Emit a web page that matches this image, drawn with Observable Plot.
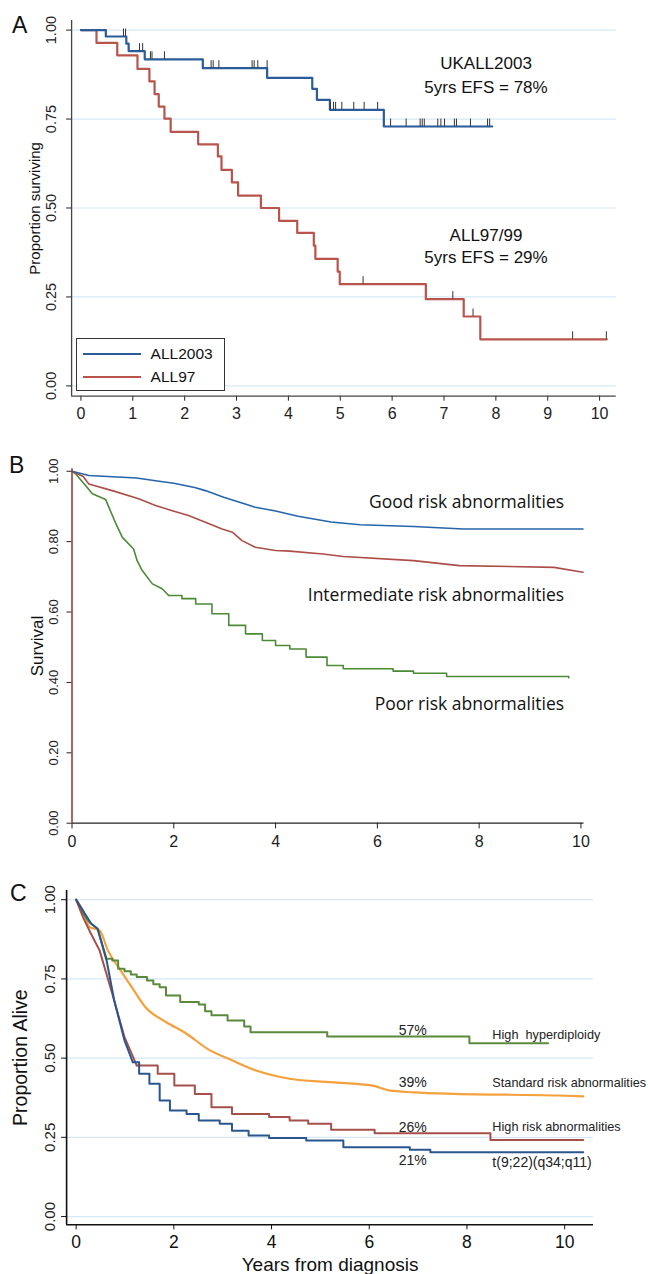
<!DOCTYPE html>
<html><head><meta charset="utf-8">
<script src="https://cdn.jsdelivr.net/npm/d3@7"></script>
<script src="https://cdn.jsdelivr.net/npm/@observablehq/plot@0.6"></script>
<style>
body{margin:0;background:#fff;}
#wrap{position:relative;width:648px;height:1274px;overflow:hidden;background:#fff;}
#wrap svg{position:absolute;left:0;overflow:visible;}
.plabel{position:absolute;font-family:"Liberation Sans",Arial,sans-serif;font-size:23px;color:#111;line-height:1;}
#legA{position:absolute;left:75.6px;top:338.3px;width:147px;height:51px;border:1px solid #333;background:#fff;font-family:"Liberation Sans",Arial,sans-serif;font-size:15.5px;color:#111;}
</style></head><body><div id="wrap"></div>
<script>
// ---------------- Panel A data ----------------
const aXTicks = [0,1,2,3,4,5,6,7,8,9,10];
const aYTicks = [0, 0.25, 0.5, 0.75, 1];
const aSeries = ["ALL2003", "ALL97"];
const aAll2003 = [[0,1],[0.48,0.982],[0.875,0.962],[0.92,0.941],[1.23,0.918],[2.35,0.893],[3.59,0.866],[4.46,0.835],[4.55,0.804],[4.80,0.776],[5.84,0.729],[7.93,0.729]];
const aAll97 = [[0,1],[0.30,0.964],[0.70,0.929],[1.09,0.891],[1.32,0.856],[1.42,0.820],[1.50,0.785],[1.61,0.751],[1.73,0.714],[2.26,0.679],[2.64,0.645],[2.71,0.607],[2.91,0.572],[3.03,0.535],[3.47,0.50],[3.82,0.464],[4.17,0.43],[4.49,0.394],[4.52,0.357],[4.95,0.321],[4.99,0.286],[6.65,0.244],[7.38,0.195],[7.70,0.131],[10.14,0.131]];
const aCensor2003 = [[0.82,0.982],[0.86,0.982],[1.13,0.941],[1.19,0.941],[1.34,0.918],[1.37,0.918],[1.61,0.918],[2.51,0.893],[2.55,0.893],[2.66,0.893],[3.30,0.893],[3.34,0.893],[3.41,0.893],[3.59,0.893],[4.81,0.776],[4.87,0.776],[4.91,0.776],[5.03,0.776],[5.26,0.776],[5.46,0.776],[5.72,0.776],[5.97,0.729],[6.27,0.729],[6.54,0.729],[6.58,0.729],[6.62,0.729],[6.88,0.729],[6.94,0.729],[7.01,0.729],[7.20,0.729],[7.24,0.729],[7.51,0.729],[7.84,0.729],[7.88,0.729]];
const aCensor97 = [[5.44,0.286],[7.17,0.244],[7.56,0.195],[9.48,0.131],[10.13,0.131]];
const aNotes = ["UKALL2003", "5yrs EFS = 78%", "ALL97/99", "5yrs EFS = 29%"];
const aYTitle = "Proportion surviving";

// ---------------- Panel B data ----------------
const bXTicks = [0,2,4,6,8,10];
const bYTicks = [0, 0.2, 0.4, 0.6, 0.8, 1];
const bSeries = ["Good risk abnormalities", "Intermediate risk abnormalities", "Poor risk abnormalities"];
const bGood = [[0,1],[0.33,0.988],[1.27,0.981],[1.64,0.973],[2.0,0.966],[2.41,0.954],[2.62,0.945],[2.98,0.926],[3.34,0.910],[3.6,0.898],[4.0,0.887],[4.44,0.872],[5.09,0.856],[5.66,0.848],[6.71,0.843],[7.69,0.836],[10.04,0.836]];
const bInter = [[0,1],[0.22,0.985],[0.33,0.964],[0.79,0.945],[1.31,0.922],[1.64,0.903],[1.97,0.888],[2.29,0.874],[2.62,0.855],[2.95,0.836],[3.15,0.827],[3.34,0.803],[3.60,0.784],[4.0,0.775],[4.28,0.773],[4.93,0.765],[5.33,0.758],[6.71,0.746],[7.61,0.732],[9.47,0.727],[10.04,0.713]];
const bPoor = [[0,1],[0.07,0.993],[0.27,0.959],[0.40,0.936],[0.56,0.926],[0.66,0.920],[0.85,0.855],[0.99,0.812],[1.21,0.779],[1.28,0.746],[1.38,0.718],[1.58,0.680],[1.77,0.666],[1.90,0.647],[2.16,0.638],[2.43,0.623],[2.75,0.595],[3.08,0.562],[3.41,0.538],[3.74,0.519],[4.0,0.505],[4.28,0.495],[4.60,0.472],[5.01,0.448],[5.33,0.439],[6.31,0.432],[6.71,0.426],[7.36,0.417],[9.76,0.413]];
const bYTitle = "Survival";

// ---------------- Panel C data ----------------
const cXTicks = [0,2,4,6,8,10];
const cYTicks = [0, 0.25, 0.5, 0.75, 1];
const cSeries = ["High  hyperdiploidy", "Standard risk abnormalities", "High risk abnormalities", "t(9;22)(q34;q11)"];
const cPercents = ["57%", "39%", "26%", "21%"];
const cHyper = [[0,1],[0.14,0.955],[0.27,0.929],[0.44,0.908],[0.61,0.814],[0.74,0.808],[0.86,0.782],[0.99,0.774],[1.12,0.764],[1.24,0.756],[1.45,0.745],[1.58,0.733],[1.71,0.724],[1.84,0.698],[2.13,0.677],[2.51,0.669],[2.64,0.648],[2.77,0.635],[3.10,0.619],[3.44,0.600],[3.57,0.582],[5.14,0.568],[8.05,0.547],[9.66,0.547]];
const cStandard = [[0,1],[0.14,0.965],[0.27,0.914],[0.48,0.903],[0.65,0.840],[0.91,0.777],[1.16,0.719],[1.41,0.662],[1.84,0.614],[2.26,0.577],[2.68,0.530],[3.19,0.493],[3.70,0.460],[4.37,0.435],[5.22,0.424],[6.07,0.413],[6.40,0.398],[6.91,0.392],[7.76,0.387],[9.87,0.382],[10.38,0.379]];
const cHighRisk = [[0,1],[0.14,0.945],[0.27,0.903],[0.48,0.840],[0.74,0.703],[0.99,0.566],[1.24,0.477],[1.67,0.451],[2.01,0.414],[2.43,0.387],[2.77,0.345],[3.19,0.324],[3.95,0.314],[4.37,0.303],[4.75,0.293],[5.22,0.274],[6.11,0.263],[8.48,0.242],[10.38,0.242]];
const cPh = [[0,1],[0.31,0.924],[0.44,0.908],[0.61,0.819],[0.78,0.682],[0.99,0.556],[1.16,0.487],[1.29,0.451],[1.50,0.419],[1.71,0.366],[1.92,0.335],[2.26,0.324],[2.51,0.303],[2.94,0.293],[3.19,0.271],[3.53,0.256],[3.95,0.248],[4.71,0.240],[5.47,0.219],[6.83,0.211],[7.25,0.203],[10.38,0.203]];
const cYTitle = "Proportion Alive";
const cXTitle = "Years from diagnosis";

// ---------------- rendering ----------------
const wrap = document.getElementById("wrap");
const ARIAL = "'Liberation Sans', Arial, sans-serif";
const OPEN = "'Open Sans', Lato, sans-serif";
const f2 = d3.format(".2f");
const X = d => d[0], Y = d => d[1];
// early part of a curve (steep, many tiny steps) drawn as a line, later part as a step function
const early = (arr, t) => arr.filter(d => d[0] <= t);
const late = (arr, t) => arr.filter(d => d[0] >= t);
function place(svg, top) { svg.style.top = top + "px"; wrap.appendChild(svg); }

// Panel A
const aXD = [-0.18, 10.32], aYD = [-0.029, 1.027];
const colA = {ALL2003: "#2b5b98", ALL97: "#b9544c"};
const plotA = Plot.plot({
  width: 648, height: 430,
  marginLeft: 71.1, marginRight: 32.3, marginTop: 20, marginBottom: 34.3,
  x: {domain: aXD, ticks: aXTicks, tickSize: 5, tickPadding: 6.5, tickFormat: d => String(d), label: null},
  y: {domain: aYD, ticks: aYTicks, tickSize: 5, tickFormat: () => "", label: null},
  style: {fontFamily: ARIAL, fontSize: "16px", color: "#222", background: "transparent"},
  marks: [
    Plot.ruleY(aYTicks, {stroke: "#d6e8f5", strokeWidth: 1.2}),
    Plot.ruleX([aXD[0]], {stroke: "#444", strokeWidth: 1.3}),
    Plot.ruleY([aYD[0]], {stroke: "#444", strokeWidth: 1.3}),
    Plot.text(aYTicks, {x: aXD[0], y: d => d, text: d => f2(d), rotate: -90, dx: -20.5, fontSize: 14.5, fill: "#222"}),
    Plot.text([aYTitle], {frameAnchor: "left", textAnchor: "middle", lineAnchor: "middle", rotate: -90, dx: -36, fontSize: 15, fill: "#111", text: d => d}),
    Plot.line(aAll97, {x: X, y: Y, curve: "step-after", stroke: colA.ALL97, strokeWidth: 2.2}),
    Plot.line(aAll2003, {x: X, y: Y, curve: "step-after", stroke: colA.ALL2003, strokeWidth: 2.2}),
    Plot.ruleX(aCensor2003, {x: X, y1: Y, y2: d => d[1] + 0.021, stroke: "#333", strokeWidth: 1}),
    Plot.ruleX(aCensor97, {x: X, y1: Y, y2: d => d[1] + 0.021, stroke: "#333", strokeWidth: 1}),
    Plot.text([aNotes[0]], {x: 7.81, y: 0.906, text: d => d, fontSize: 17, fill: "#111"}),
    Plot.text([aNotes[1]], {x: 7.81, y: 0.839, text: d => d, fontSize: 17, fill: "#111"}),
    Plot.text([aNotes[2]], {x: 7.81, y: 0.423, text: d => d, fontSize: 17, fill: "#111"}),
    Plot.text([aNotes[3]], {x: 7.81, y: 0.362, text: d => d, fontSize: 17, fill: "#111"})
  ]
});
place(plotA, 0);

// legend A
const leg = document.createElement("div");
leg.id = "legA";
leg.innerHTML = aSeries.map((s, i) =>
  `<div style="position:absolute;left:6px;top:${15 + i * 22.4 - 1}px;width:58px;height:2px;background:${colA[s]}"></div>` +
  `<div style="position:absolute;left:74px;top:${15 + i * 22.4 - 9}px;line-height:17px;">${s}</div>`).join("");
wrap.appendChild(leg);

// Panel B
const bXD = [0, 10.06], bYD = [0, 1.007];
const colB = ["#2465ab", "#ad4d47", "#4b8b36"];
const plotB = Plot.plot({
  width: 648, height: 430,
  marginLeft: 71.5, marginRight: 64.5, marginTop: 38.3, marginBottom: 37.3,
  x: {domain: bXD, ticks: bXTicks, tickSize: 5.7, tickPadding: 6.5, tickFormat: d => String(d), label: null},
  y: {domain: bYD, ticks: bYTicks, tickSize: 5, tickFormat: () => "", label: null},
  style: {fontFamily: ARIAL, fontSize: "16px", color: "#222", background: "transparent"},
  marks: [
    Plot.ruleY([bYD[0]], {stroke: "#222", strokeWidth: 1.3}),
    Plot.text(bYTicks, {x: bXD[0], y: d => d, text: d => f2(d), rotate: -90, dx: -17.8, fontSize: 13, fill: "#222"}),
    Plot.text([bYTitle], {frameAnchor: "left", textAnchor: "middle", lineAnchor: "middle", rotate: -90, dx: -34.3, fontSize: 17, fill: "#111", text: d => d}),
    Plot.line(early(bPoor, 1.9), {x: X, y: Y, curve: "linear", stroke: colB[2], strokeWidth: 1.6}),
    Plot.line(late(bPoor, 1.9), {x: X, y: Y, curve: "step-after", stroke: colB[2], strokeWidth: 1.6}),
    Plot.line(bInter, {x: X, y: Y, curve: "linear", stroke: colB[1], strokeWidth: 1.6}),
    Plot.line(bGood, {x: X, y: Y, curve: "linear", stroke: colB[0], strokeWidth: 1.6}),
    Plot.ruleX([bXD[0]], {stroke: "#9a3f38", strokeWidth: 1.6}),
    Plot.text([bSeries[0]], {x: 9.67, y: 0.912, text: d => d, textAnchor: "end", fontFamily: OPEN, fontSize: 17.5, fill: "#111"}),
    Plot.text([bSeries[1]], {x: 9.67, y: 0.647, text: d => d, textAnchor: "end", fontFamily: OPEN, fontSize: 17.5, fill: "#111"}),
    Plot.text([bSeries[2]], {x: 9.67, y: 0.339, text: d => d, textAnchor: "end", fontFamily: OPEN, fontSize: 17.5, fill: "#111"})
  ]
});
place(plotB, 430);

// Panel C
const cXD = [-0.195, 10.59], cYD = [-0.026, 1.029];
const colC = ["#5a8a3b", "#f5a03c", "#a6504b", "#2a5690"];
const plotC = Plot.plot({
  width: 648, height: 414,
  marginLeft: 66.1, marginRight: 55, marginTop: 30, marginBottom: 49.7,
  x: {domain: cXD, ticks: cXTicks, tickSize: 5, tickPadding: 5.5, tickFormat: d => String(d), label: null},
  y: {domain: cYD, ticks: cYTicks, tickSize: 5, tickFormat: () => "", label: null},
  style: {fontFamily: ARIAL, fontSize: "17.5px", color: "#111", background: "transparent"},
  marks: [
    Plot.ruleY(cYTicks, {stroke: "#d6e8f5", strokeWidth: 1.2}),
    Plot.ruleX([cXD[0]], {stroke: "#111", strokeWidth: 1.6}),
    Plot.ruleY([cYD[0]], {stroke: "#111", strokeWidth: 1.6}),
    Plot.text(cYTicks, {x: cXD[0], y: d => d, text: d => f2(d), rotate: -90, dx: -16, fontSize: 15, fill: "#222"}),
    Plot.text([cYTitle], {frameAnchor: "left", textAnchor: "middle", lineAnchor: "middle", rotate: -90, dx: -45.4, fontSize: 19.5, fill: "#111", text: d => d}),
    Plot.text([cXTitle], {frameAnchor: "bottom", textAnchor: "middle", lineAnchor: "middle", dy: 40.5, fontSize: 19, fill: "#111", text: d => d}),
    Plot.line(cStandard, {x: X, y: Y, curve: "monotone-x", stroke: colC[1], strokeWidth: 2.2}),
    Plot.line(early(cHyper, 0.61), {x: X, y: Y, curve: "linear", stroke: colC[0], strokeWidth: 2}),
    Plot.line(late(cHyper, 0.61), {x: X, y: Y, curve: "step-after", stroke: colC[0], strokeWidth: 2}),
    Plot.line(early(cHighRisk, 1.24), {x: X, y: Y, curve: "linear", stroke: colC[2], strokeWidth: 2}),
    Plot.line(late(cHighRisk, 1.24), {x: X, y: Y, curve: "step-after", stroke: colC[2], strokeWidth: 2}),
    Plot.line(early(cPh, 1.16), {x: X, y: Y, curve: "linear", stroke: colC[3], strokeWidth: 2}),
    Plot.line(late(cPh, 1.16), {x: X, y: Y, curve: "step-after", stroke: colC[3], strokeWidth: 2}),
    Plot.text([cPercents[0]], {x: 6.89, y: 0.587, text: d => d, fontSize: 14, fill: "#222"}),
    Plot.text([cPercents[1]], {x: 6.89, y: 0.424, text: d => d, fontSize: 14, fill: "#222"}),
    Plot.text([cPercents[2]], {x: 6.89, y: 0.282, text: d => d, fontSize: 14, fill: "#222"}),
    Plot.text([cPercents[3]], {x: 6.89, y: 0.177, text: d => d, fontSize: 14, fill: "#222"}),
    Plot.text([cSeries[0]], {x: 8.52, y: 0.574, text: d => d, textAnchor: "start", fontSize: 12.7, fill: "#222", style: "white-space:pre"}),
    Plot.text([cSeries[1]], {x: 8.52, y: 0.421, text: d => d, textAnchor: "start", fontSize: 12.7, fill: "#222"}),
    Plot.text([cSeries[2]], {x: 8.52, y: 0.282, text: d => d, textAnchor: "start", fontSize: 12.7, fill: "#222"}),
    Plot.text([cSeries[3]], {x: 8.52, y: 0.171, text: d => d, textAnchor: "start", fontSize: 14, fill: "#222"})
  ]
});
place(plotC, 860);

// panel letters
[["A", 12, 14], ["B", 9, 454], ["C", 10, 882]].forEach(([t, l, tp]) => {
  const d = document.createElement("div");
  d.className = "plabel"; d.textContent = t;
  d.style.left = l + "px"; d.style.top = tp + "px";
  wrap.appendChild(d);
});
</script></body></html>
